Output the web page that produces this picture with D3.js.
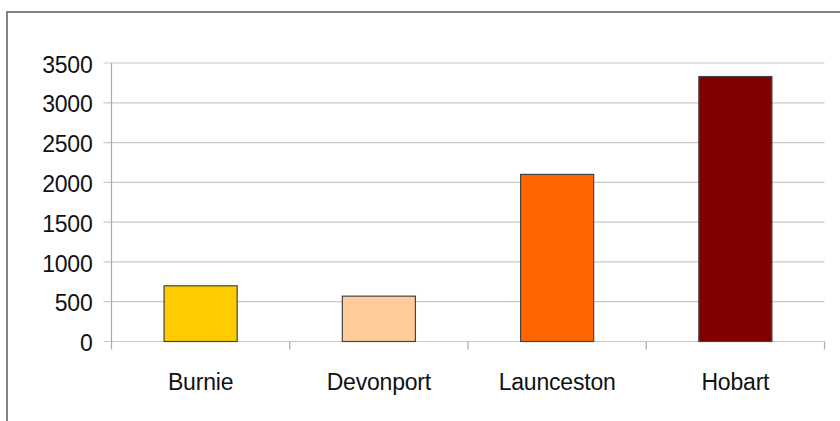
<!DOCTYPE html>
<html>
<head>
<meta charset="utf-8">
<script src="https://cdn.jsdelivr.net/npm/d3@7"></script>
<style>
  body { margin: 0; background: #fff; }
  svg { display: block; font-family: "Liberation Sans", Arial, sans-serif; }
</style>
</head>
<body>
<svg class="chart" width="840" height="421"></svg>
<script>
const cities = ['Burnie', 'Devonport', 'Launceston', 'Hobart'];
const counts = [700, 570, 2100, 3330];
const barColors = ['#ffcc00', '#ffcc99', '#ff6600', '#800000'];
const yTicks = [0, 500, 1000, 1500, 2000, 2500, 3000, 3500];

const startApp = () => {
  const svg = d3.select('.chart');
  const left = 111.5, right = 824.5, top = 63, bottom = 341.5;

  // outer frame, cut off at right and bottom
  svg.append('rect')
    .attr('x', 7).attr('y', 12)
    .attr('width', 900).attr('height', 500)
    .attr('fill', 'none')
    .attr('stroke', '#666')
    .attr('stroke-width', 1.6);

  const x = d3.scaleBand().domain(cities).range([left, right]).paddingInner(0).paddingOuter(0);
  const y = d3.scaleLinear().domain([0, 3500]).range([bottom, top]);

  // gridlines
  svg.append('g')
    .selectAll('line')
    .data(yTicks)
    .enter()
    .append('line')
    .attr('x1', left - 8).attr('x2', right)
    .attr('y1', d => y(d)).attr('y2', d => y(d))
    .attr('stroke', '#c8c8c8')
    .attr('stroke-width', 1.2);

  // y axis labels
  const yAxis = svg.append('g')
    .attr('transform', `translate(${left - 8},0)`)
    .call(d3.axisLeft(y).tickValues(yTicks).tickFormat(d3.format('d')).tickSize(0).tickPadding(11));
  yAxis.select('.domain').remove();
  yAxis.selectAll('text')
    .attr('font-size', 23)
    .attr('font-family', '"Liberation Sans", Arial, sans-serif')
    .attr('letter-spacing', -0.2)
    .attr('fill', '#111')
    .attr('dy', '0.4em');

  // y axis line
  svg.append('line')
    .attr('x1', left).attr('x2', left)
    .attr('y1', top).attr('y2', bottom)
    .attr('stroke', '#aaa')
    .attr('stroke-width', 1.2);

  // x axis category ticks
  const xTicks = cities.map(c => x(c)).concat([right]);
  svg.append('g')
    .selectAll('line')
    .data(xTicks)
    .enter()
    .append('line')
    .attr('x1', d => d).attr('x2', d => d)
    .attr('y1', bottom).attr('y2', bottom + 8)
    .attr('stroke', '#aaa')
    .attr('stroke-width', 1.2);

  // bars
  const barW = x.bandwidth() * 0.41;
  svg.append('g')
    .selectAll('rect')
    .data(cities)
    .enter()
    .append('rect')
    .attr('x', d => x(d) + (x.bandwidth() - barW) / 2)
    .attr('y', (d, i) => y(counts[i]))
    .attr('width', barW)
    .attr('height', (d, i) => y(0) - y(counts[i]))
    .attr('fill', (d, i) => barColors[i])
    .attr('stroke', '#444')
    .attr('stroke-width', 1.2);

  // x labels
  svg.append('g')
    .selectAll('text')
    .data(cities)
    .enter()
    .append('text')
    .attr('x', d => x(d) + x.bandwidth() / 2)
    .attr('y', 390)
    .attr('text-anchor', 'middle')
    .attr('font-size', 23)
    .attr('letter-spacing', -0.2)
    .attr('fill', '#111')
    .text(d => d);
};

window.onload = startApp;
</script>
</body>
</html>
